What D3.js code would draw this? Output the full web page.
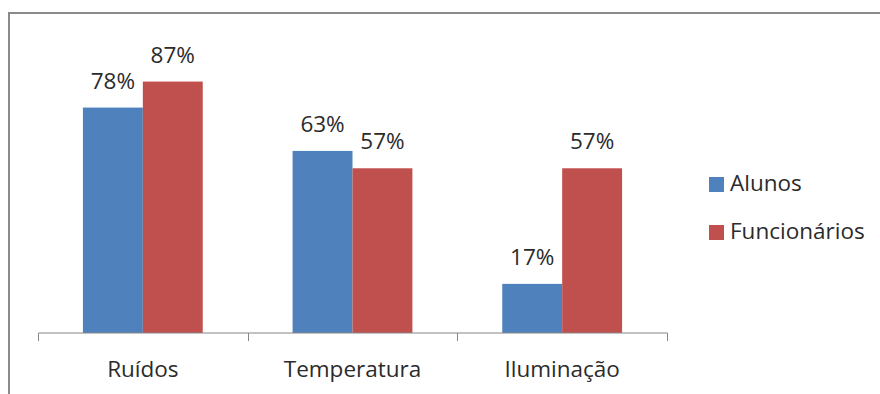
<!DOCTYPE html>
<html><head><meta charset="utf-8">
<script src="https://cdn.jsdelivr.net/npm/d3@7"></script>
<style>body{margin:0;background:#fff}svg{display:block}</style>
</head><body>
<svg id="c" width="880" height="394"></svg>
<script>
const categories = ["Ruídos", "Temperatura", "Iluminação"];
const seriesNames = ["Alunos", "Funcionários"];
const alunos = [0.78, 0.63, 0.17];
const funcionarios = [0.87, 0.57, 0.57];
const colors = ["#4F81BD", "#C0504D"];
const values = [alunos, funcionarios];

const font = "'Open Sans', sans-serif";
const fs = 22.5;
const txt = "#2b2b2b";
const svg = d3.select("#c");

// outer frame (cropped)
svg.append("path").attr("d", "M9,394V13H880").attr("fill", "none")
  .attr("stroke", "#8a8a8a").attr("stroke-width", 2);

const x = d3.scaleBand().domain(categories).range([38, 667]).padding(0);
const xs = d3.scaleBand().domain(seriesNames).range([0, x.bandwidth()])
  .paddingInner(0).paddingOuter(0.75);
const y = d3.scaleLinear().domain([0, 1]).range([333, 44]);

const g = svg.append("g");
categories.forEach((c, i) => {
  seriesNames.forEach((s, j) => {
    const v = values[j][i];
    g.append("rect")
      .attr("x", x(c) + xs(s))
      .attr("y", y(v))
      .attr("width", xs.bandwidth())
      .attr("height", y(0) - y(v))
      .attr("fill", colors[j]);
    g.append("text")
      .attr("x", x(c) + xs(s) + xs.bandwidth() / 2)
      .attr("y", y(v) - 19)
      .attr("text-anchor", "middle")
      .attr("font-family", font).attr("font-size", fs)
      .attr("fill", txt)
      .text(d3.format(".0%")(v));
  });
});

const axis = svg.append("g").attr("transform", "translate(0,333)")
  .call(d3.axisBottom(x).tickSize(0).tickPadding(0));
axis.select(".domain").attr("stroke", "#868686").attr("d", "M38.5,0H667.5");
axis.selectAll(".tick text").attr("font-family", font).attr("font-size", fs)
  .attr("fill", txt).attr("y", 44).attr("dy", 0);
// category boundary tick marks
const bounds = categories.map(c => x(c)).concat([x.range()[1]]);
axis.selectAll(".bt").data(bounds).enter().append("line")
  .attr("x1", d => Math.round(d) + 0.5).attr("x2", d => Math.round(d) + 0.5)
  .attr("y1", 0).attr("y2", 8).attr("stroke", "#868686");

// legend
const lg = svg.append("g");
seriesNames.forEach((s, j) => {
  const yy = 177 + j * 48;
  lg.append("rect").attr("x", 709).attr("y", yy).attr("width", 15).attr("height", 15)
    .attr("fill", colors[j]);
  lg.append("text").attr("x", 730).attr("y", yy + 14)
    .attr("font-family", font).attr("font-size", fs).attr("fill", txt).text(s);
});
</script>
</body></html>
